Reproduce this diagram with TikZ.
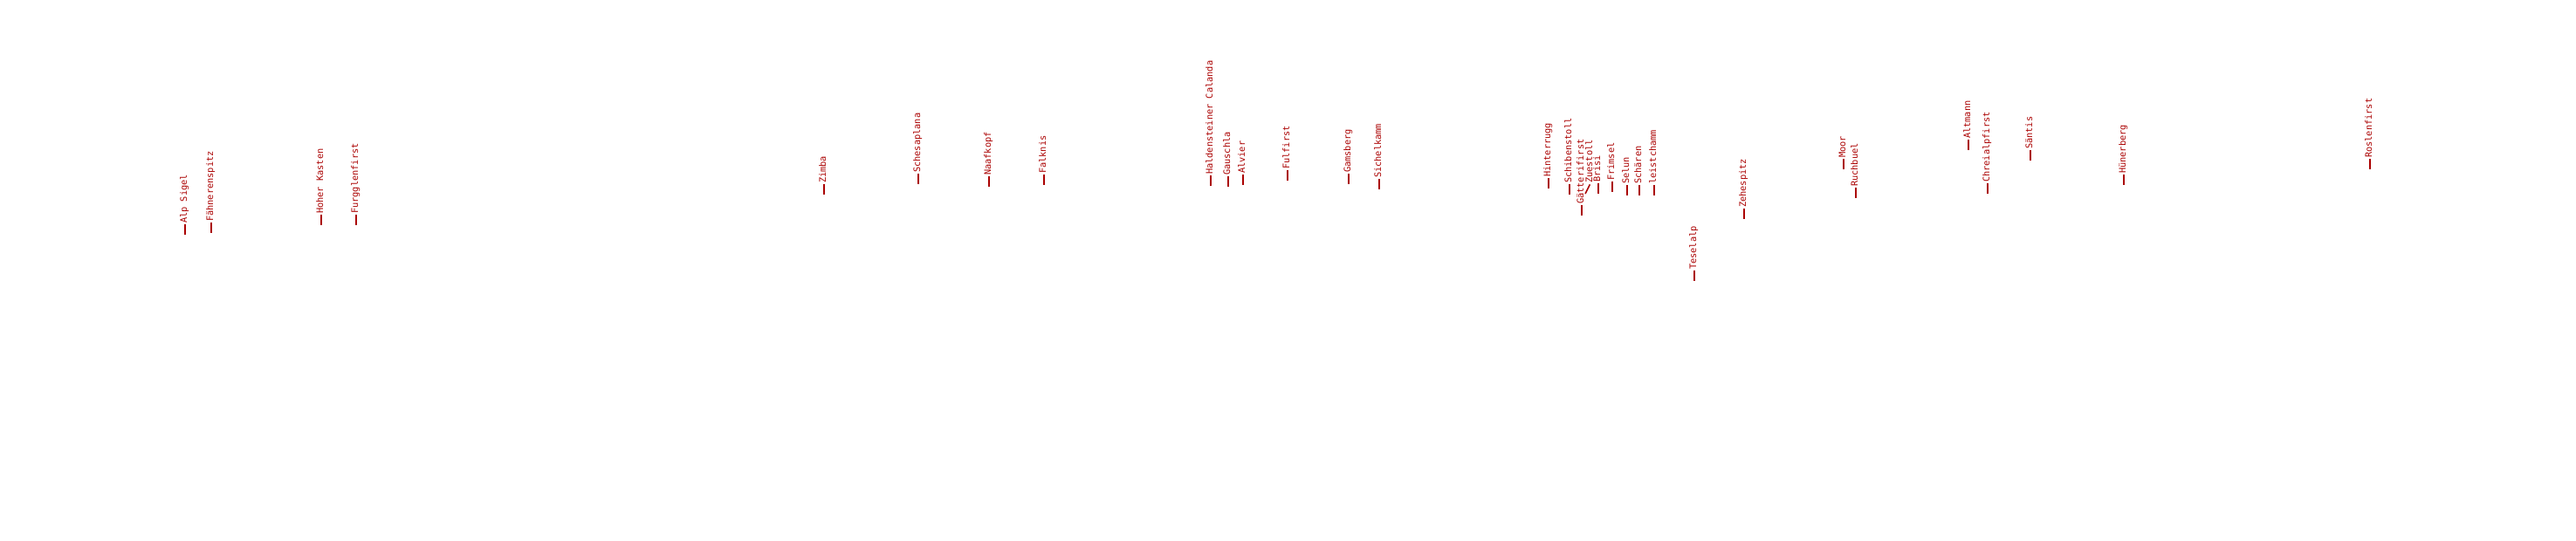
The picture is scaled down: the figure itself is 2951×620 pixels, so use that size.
\documentclass[tikz,border=0pt]{standalone}
\usepackage{fontspec}
\newfontfamily\pkfont{DejaVu Sans Mono}
\definecolor{pkred}{RGB}{170,0,0}
\tikzset{
  lbl/.style={rotate=90, anchor=mid west, inner sep=0pt, outer sep=0pt, text=pkred, font=\pkfont\fontsize{10.3}{12}\selectfont},
  lead/.style={draw=pkred, line width=1.6pt, shorten >=1.5pt}
}
\newcommand\pk[4]{%
  \coordinate (#1p) at (#2,#3);
  \node[lbl] (#1) at (#2,#3-13) {#4};
  \draw[lead] (#1p) -- (#1.mid west);
}
\begin{document}
\begin{tikzpicture}[x=1pt,y=-1pt]
\useasboundingbox (0,0) rectangle (2951,620);
\pk{a}{212}{269}{Alp Sigel}
\pk{b}{242}{267}{Fähnerenspitz}
\pk{c}{368}{258}{Hoher Kasten}
\pk{d}{408}{258}{Furgglenfirst}
\pk{e}{944}{223}{Zimba}
\pk{f}{1052}{211}{Schesaplana}
\pk{g}{1133}{214}{Naafkopf}
\pk{h}{1196}{212}{Falknis}
\pk{i}{1387}{213}{Haldensteiner Calanda}
\pk{j}{1407}{214}{Gauschla}
\pk{k}{1424}{212}{Alvier}
\pk{l}{1475}{207}{Fulfirst}
\pk{m}{1545}{211}{Gamsberg}
\pk{n}{1580}{217}{Sichelkamm}
\pk{o}{1774}{216}{Hinterrugg}
\pk{q}{1798}{223}{Schibenstoll}
\pk{r}{1812}{247}{Gätterifirst}
\coordinate (sp) at (1816,222);
\node[lbl] (s) at (1822,210) {Zuestoll};
\draw[lead] (sp) -- (s.mid west);
\pk{t}{1831}{222}{Brisi}
\pk{u}{1847}{220}{Frimsel}
\pk{v}{1864}{224}{Selun}
\pk{w}{1878}{224}{Schären}
\pk{x}{1895}{224}{leistchamm}
\pk{y}{1941}{322}{Teselalp}
\pk{z}{1998}{251}{Zehespitz}
\pk{aa}{2112}{194}{Moor}
\pk{ab}{2126}{227}{Ruchbuel}
\pk{ac}{2255}{172}{Altmann}
\pk{ad}{2277}{222}{Chreialpfirst}
\pk{ae}{2326}{184}{Säntis}
\pk{af}{2433}{212}{Hünerberg}
\pk{ag}{2715}{194}{Roslenfirst}
\end{tikzpicture}
\end{document}
